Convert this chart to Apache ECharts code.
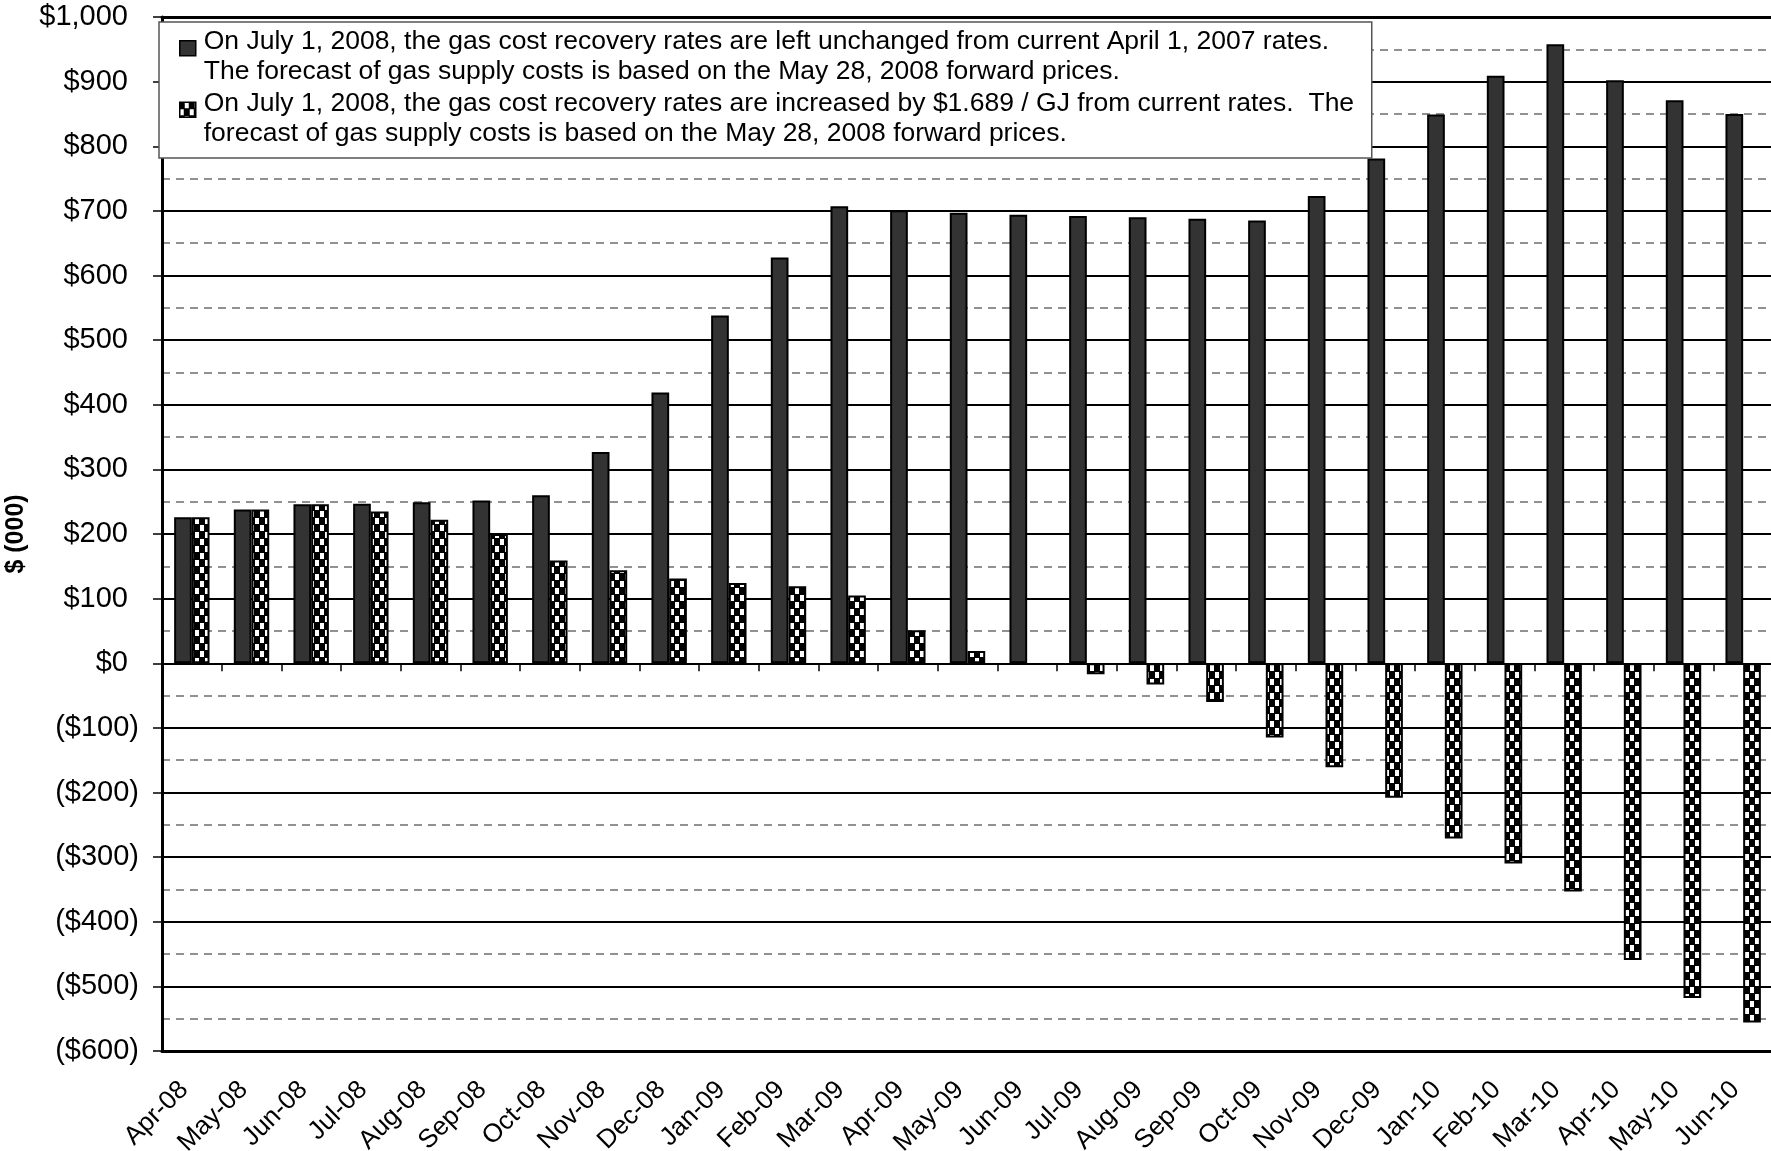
<!DOCTYPE html>
<html>
<head>
<meta charset="utf-8">
<script src="https://cdn.jsdelivr.net/npm/echarts@6/dist/echarts.min.js"></script>
<style>
  html, body { margin: 0; padding: 0; background: #ffffff; }
  #chart { width: 1771px; height: 1151px; }
</style>
</head>
<body>
<div id="chart"></div>
<script>
// Monthly categories
const months = ['Apr-08', 'May-08', 'Jun-08', 'Jul-08', 'Aug-08', 'Sep-08', 'Oct-08', 'Nov-08', 'Dec-08',
  'Jan-09', 'Feb-09', 'Mar-09', 'Apr-09', 'May-09', 'Jun-09', 'Jul-09', 'Aug-09', 'Sep-09', 'Oct-09', 'Nov-09', 'Dec-09',
  'Jan-10', 'Feb-10', 'Mar-10', 'Apr-10', 'May-10', 'Jun-10'];

// Cumulative balance, $ (000) — rates left unchanged
const unchangedRates = [226, 238, 246, 247, 249, 252, 260, 327, 419, 538, 628, 707, 701, 697, 694, 692, 690, 688, 685,
  723, 781, 849, 909, 958, 902, 871, 850];

// Cumulative balance, $ (000) — rates increased by $1.689 / GJ
const increasedRates = [226, 238, 246, 235, 222, 200, 159, 144, 131, 124, 119, 105, 51, 19, -2, -17, -33, -60, -115,
  -161, -208, -271, -310, -353, -459, -518, -556];

// Value axis ticks
const yMin = -600;
const yMax = 1000;
const yStep = 100;

// Legend wording
const unchangedLabel = ['On July 1, 2008, the gas cost recovery rates are left unchanged from current April 1, 2007 rates.',
  'The forecast of gas supply costs is based on the May 28, 2008 forward prices.'];
const increasedLabel = ['On July 1, 2008, the gas cost recovery rates are increased by $1.689 / GJ from current rates.  The',
  'forecast of gas supply costs is based on the May 28, 2008 forward prices.'];

const FONT = '"Liberation Sans", Arial, Helvetica, sans-serif';
const LEGEND_FONT_SIZE = 26.5;
const AXIS_FONT_SIZE = 29;

// Black-and-white checkerboard fill (white squares sit inside a black grid)
function checkerPattern() {
  const c = document.createElement('canvas');
  c.width = 10; c.height = 14;
  const g = c.getContext('2d');
  g.fillStyle = '#000000';
  g.fillRect(0, 0, 10, 14);
  g.fillStyle = '#ffffff';
  g.fillRect(5, 0, 4, 6);
  g.fillRect(0, 7, 4, 6);
  return { image: c, repeat: 'repeat' };
}

// Widen the legend box so it ends at a fixed right edge
function legendRightPadding(lines, leftEdge, leftPad, iconW, gap, rightEdge) {
  const ctx = document.createElement('canvas').getContext('2d');
  ctx.font = LEGEND_FONT_SIZE + 'px ' + FONT;
  let w = 0;
  lines.forEach(function (t) { w = Math.max(w, ctx.measureText(t).width); });
  return Math.max(4, rightEdge - (leftEdge + leftPad + iconW + gap + w));
}

// $1,000 / ($100) style; positive values leave room for the closing bracket
function moneyLabel(v) {
  const s = '$' + Math.abs(v).toLocaleString('en-US');
  return v < 0 ? '(' + s + ')' : '{p|' + s + '}';
}

const unchangedName = unchangedLabel.join('\n');
const increasedName = increasedLabel.join('\n');

// Square icon sitting on the first text line of a two-line legend entry
const legendIcon = 'path://M0,0M0,14L16,14L16,29L0,29ZM16,60';

const chart = echarts.init(document.getElementById('chart'), null, { renderer: 'canvas' });

chart.setOption({
  backgroundColor: '#ffffff',
  animation: false,
  textStyle: { fontFamily: FONT },
  grid: { left: 162, top: 17, width: 1611, bottom: 100, containLabel: false, outerBoundsMode: 'none' },
  legend: {
    orient: 'vertical',
    left: 159,
    top: 22,
    itemWidth: 16,
    itemHeight: 60,
    itemGap: 0,
    selectedMode: false,
    padding: [4, legendRightPadding(unchangedLabel.concat(increasedLabel), 159, 20, 16, 8, 1371), 9, 20],
    backgroundColor: '#ffffff',
    borderColor: '#555555',
    borderWidth: 1.5,
    itemStyle: { borderColor: '#000000', borderWidth: 1.5 },
    textStyle: { fontFamily: FONT, fontSize: LEGEND_FONT_SIZE, lineHeight: 30, color: '#000000', padding: [0, 0, 0, 3] },
    data: [
      { name: unchangedName, icon: legendIcon },
      { name: increasedName, icon: legendIcon }
    ]
  },
  xAxis: [
    {
      // baseline through $0 with month separators
      type: 'category',
      data: months,
      position: 'bottom',
      axisLine: { onZero: true, lineStyle: { color: '#000000', width: 2 } },
      axisTick: { show: true, length: 8, lineStyle: { color: '#000000', width: 1.5 } },
      axisLabel: { show: false },
      splitLine: { show: false }
    },
    {
      // month labels along the bottom edge
      type: 'category',
      data: months,
      position: 'bottom',
      axisLine: { onZero: false, lineStyle: { color: '#000000', width: 3 } },
      axisTick: { show: false },
      axisLabel: {
        interval: 0, rotate: 45, margin: 27, padding: [0, 11, 0, 0],
        fontSize: 26, fontFamily: FONT, color: '#000000'
      },
      splitLine: { show: false }
    },
    {
      // top frame line
      type: 'category',
      data: months,
      position: 'top',
      axisLine: { onZero: false, lineStyle: { color: '#000000', width: 3 } },
      axisTick: { show: false },
      axisLabel: { show: false },
      splitLine: { show: false }
    }
  ],
  yAxis: {
    type: 'value',
    min: yMin,
    max: yMax,
    interval: yStep,
    name: '$ (000)',
    nameLocation: 'middle',
    nameGap: 125,
    nameTextStyle: { fontFamily: FONT, fontWeight: 'bold', fontSize: 25, color: '#000000' },
    axisLine: { show: true, onZero: false, lineStyle: { color: '#000000', width: 3 } },
    axisTick: { show: true, length: 9, lineStyle: { color: '#000000', width: 1.5 } },
    axisLabel: {
      margin: 23,
      fontSize: AXIS_FONT_SIZE,
      fontFamily: FONT,
      color: '#000000',
      formatter: moneyLabel,
      rich: { p: { fontSize: AXIS_FONT_SIZE, fontFamily: FONT, color: '#000000', padding: [0, 11, 0, 0] } }
    },
    splitLine: { show: true, lineStyle: { color: '#000000', width: 2 } },
    minorTick: { show: false, splitNumber: 2 },
    minorSplitLine: { show: true, lineStyle: { color: '#6e6e6e', width: 1.5, type: [8, 6] } }
  },
  series: [
    {
      name: unchangedName,
      type: 'bar',
      xAxisIndex: 0,
      yAxisIndex: 0,
      data: unchangedRates,
      barWidth: 17.7,
      barGap: '0%',
      itemStyle: { color: '#333333', borderColor: '#000000', borderWidth: 2 }
    },
    {
      name: increasedName,
      type: 'bar',
      xAxisIndex: 0,
      yAxisIndex: 0,
      data: increasedRates,
      barWidth: 17.7,
      barGap: '0%',
      itemStyle: { color: checkerPattern(), borderColor: '#000000', borderWidth: 2 }
    }
  ]
});
</script>
</body>
</html>
